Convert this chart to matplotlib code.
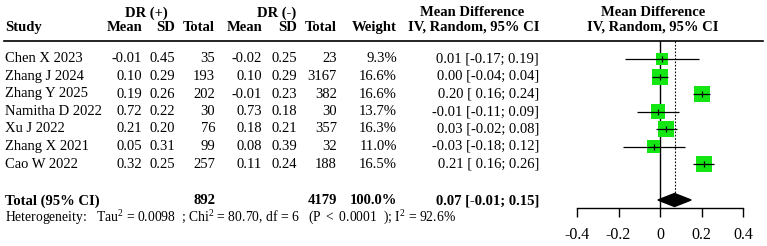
import matplotlib
matplotlib.use("Agg")
import matplotlib.pyplot as plt
import numpy as np

plt.rcParams['font.family'] = ['Liberation Serif', 'DejaVu Serif']
plt.rcParams['mathtext.fontset'] = 'custom'
plt.rcParams['mathtext.rm'] = 'Liberation Serif'
plt.rcParams['mathtext.it'] = 'Liberation Serif:italic'

# ---------------- data ----------------
studies = ["Chen X 2023", "Zhang J 2024", "Zhang Y 2025", "Namitha D 2022",
           "Xu J 2022", "Zhang X 2021", "Cao W 2022"]
mean_pos = [-0.01, 0.10, 0.19, 0.72, 0.21, 0.05, 0.32]
sd_pos = [0.45, 0.29, 0.26, 0.22, 0.20, 0.31, 0.25]
n_pos = [35, 193, 202, 30, 76, 99, 257]
mean_neg = [-0.02, 0.10, -0.01, 0.73, 0.18, 0.08, 0.11]
sd_neg = [0.25, 0.29, 0.23, 0.18, 0.21, 0.39, 0.24]
n_neg = [23, 3167, 382, 30, 357, 32, 188]
weights = [9.3, 16.6, 16.6, 13.7, 16.3, 11.0, 16.5]
md = [0.01, 0.00, 0.20, -0.01, 0.03, -0.03, 0.21]
ci_low = [-0.17, -0.04, 0.16, -0.11, -0.02, -0.18, 0.16]
ci_high = [0.19, 0.04, 0.24, 0.09, 0.08, 0.12, 0.26]
total_n_pos = 892
total_n_neg = 4179
total_weight = 100.0
total_md = 0.07
total_low = -0.01
total_high = 0.15
xticks = [-0.4, -0.2, 0, 0.2, 0.4]
xtick_labels = ["-0.4", "-0.2", "0", "0.2", "0.4"]
het_text = (r"Heterogeneity:   Tau$^2$ = 0.0098  ; Chi$^2$ = 80.70, df = 6   "
            r"(P $<$ 0.0001  ); I$^2$ = 92.6%")

# ---------------- layout ----------------
W, H = 767, 246
row0_px, row_h = 59.0, 17.5
def r_of(px):
    return (px - row0_px) / row_h

fig = plt.figure(figsize=(W / 100, H / 100), dpi=100)
tab = fig.add_axes([0, 0, 1, 1])
tab.set_xlim(0, W)
tab.set_ylim(r_of(H), r_of(0))
tab.axis('off')

fs = 10.5
rows = np.arange(len(studies))

# header
hy1, hy2 = r_of(13), r_of(27.5)
bold = dict(fontsize=fs, fontweight='bold', va='center')
tab.text(146, hy1, "DR (+)", ha='center', **bold)
tab.text(277, hy1, "DR (-)", ha='center', **bold)
tab.text(472, hy1, "Mean Difference", ha='center', **bold)
tab.text(653, hy1, "Mean Difference", ha='center', **bold)
tab.text(5, hy2, "Study", ha='left', **bold)
col_right = [142, 175, 215, 262, 297, 337, 397]
col_names = ["Mean", "SD", "Total", "Mean", "SD", "Total", "Weight"]
for x, name in zip(col_right, col_names):
    tab.text(x, hy2, name, ha='right', **bold)
tab.text(539, hy2, "IV, Random, 95% CI", ha='right', **bold)
tab.text(653, hy2, "IV, Random, 95% CI", ha='center', **bold)
tab.plot([4, 763], [r_of(41), r_of(41)], color='black', lw=1.2)

def fmt_ci(m, lo, hi):
    los = f"{lo:.2f}" if lo < 0 else f" {lo:.2f}"
    return f"{m:.2f} [{los}; {hi:.2f}]"

norm = dict(fontsize=fs, va='center')
for i in rows:
    tab.text(5, i, studies[i], ha='left', **norm)
    vals = [f"{mean_pos[i]:.2f}", f"{sd_pos[i]:.2f}", f"{n_pos[i]}",
            f"{mean_neg[i]:.2f}", f"{sd_neg[i]:.2f}", f"{n_neg[i]}",
            f"{weights[i]:.1f}%"]
    for x, v in zip(col_right, vals):
        tab.text(x, i, v, ha='right', **norm)
    tab.text(539, i, fmt_ci(md[i], ci_low[i], ci_high[i]), ha='right', **norm)

ty = r_of(201)
tab.text(5, ty, "Total (95% CI)", ha='left', **bold)
tab.text(215, ty, f"{total_n_pos}", ha='right', **bold)
tab.text(337, ty, f"{total_n_neg}", ha='right', **bold)
tab.text(397, ty, f"{total_weight:.1f}%", ha='right', **bold)
tab.text(539, ty, fmt_ci(total_md, total_low, total_high), ha='right', **bold)
tab.text(5, r_of(218), het_text, ha='left', va='center', fontsize=9.8)

# ---------------- forest ----------------
x0, x1 = 577, 743
top_px, axis_px = 41, 208
fax = fig.add_axes([x0 / W, 1 - axis_px / H, (x1 - x0) / W, (axis_px - top_px) / H])
fax.set_xlim(xticks[0], xticks[-1])
fax.set_ylim(r_of(axis_px), r_of(top_px))
fax.patch.set_alpha(0)
for s in ['top', 'right', 'left']:
    fax.spines[s].set_visible(False)
fax.spines['bottom'].set_linewidth(1.0)
fax.set_yticks([])
fax.set_xticks(xticks)
fax.set_xticklabels(xtick_labels, fontsize=11.5)
fax.tick_params(axis='x', length=6.5, width=1.0, pad=7)

diam_y = r_of(200)
fax.plot([0, 0], [r_of(top_px), r_of(axis_px)], color='black', lw=1.0)
fax.plot([total_md, total_md], [r_of(top_px), diam_y], color='black', lw=0.8,
         ls=(0, (1.5, 1.5)))

side_px = 16 * np.sqrt(np.array(weights) / max(weights))
sizes = (side_px * 0.72) ** 2
fax.scatter(md, rows, s=sizes, marker='s', color='#14e614', edgecolors='none', zorder=3)
fax.hlines(rows, ci_low, ci_high, color='black', lw=0.9, zorder=4)
fax.scatter(md, rows, s=16, marker='|', color='black', linewidths=0.9, zorder=5)

h = 6.5 / row_h
fax.fill([total_low, total_md, total_high, total_md],
         [diam_y, diam_y - h, diam_y, diam_y + h], color='black', zorder=4)

fig.savefig("out.png", dpi=100)
